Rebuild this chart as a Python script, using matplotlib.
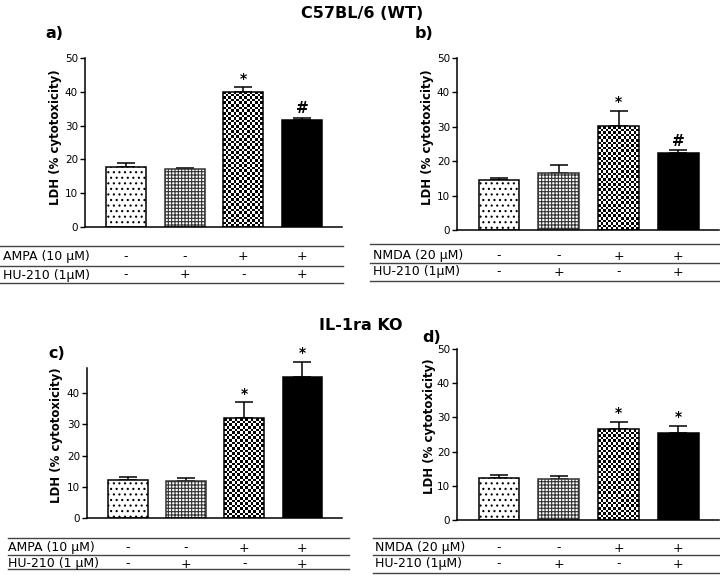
import numpy as np
import matplotlib
matplotlib.use('Agg')
import matplotlib.pyplot as plt
from matplotlib import transforms
from matplotlib.lines import Line2D

plt.rcParams['font.family'] = ['DejaVu Sans']
plt.rcParams['hatch.linewidth'] = 0.8

# data (LDH, % cytotoxicity)
a_vals = [17.7, 17.2, 40.0, 31.7]
a_err = [1.1, 0.3, 1.3, 0.6]
a_marks = ['', '', '*', '#']

b_vals = [14.5, 16.7, 30.1, 22.4]
b_err = [0.6, 2.3, 4.6, 0.8]
b_marks = ['', '', '*', '#']

c_vals = [12.3, 12.0, 32.0, 45.0]
c_err = [0.9, 0.8, 5.0, 5.0]
c_marks = ['', '', '*', '*']

d_vals = [12.4, 12.1, 26.6, 25.5]
d_err = [0.9, 0.8, 2.2, 2.1]
d_marks = ['', '', '*', '*']

agonist_signs = ['-', '-', '+', '+']
hu_signs = ['-', '+', '-', '+']

W, H = 720, 580
fig = plt.figure(figsize=(7.2, 5.8), dpi=100)


def fx(px):
    return px / W


def fy(py):
    return 1 - py / H


def panel(box, ylim, yticks, vals, errs, marks, letter, letter_pos, ylab_pos,
          row_labels, label_x, row_ys, line_ys, line_x):
    left, top, right, bottom = box
    ax = fig.add_axes([fx(left), fy(bottom), (right - left) / W, (bottom - top) / H])
    ax.set_xlim(-0.7, 3.68)
    ax.set_ylim(*ylim)
    ax.set_yticks(yticks)
    for s in ['top', 'right']:
        ax.spines[s].set_visible(False)
    for s in ['left', 'bottom']:
        ax.spines[s].set_linewidth(1.1)
    ax.tick_params(axis='x', bottom=False, labelbottom=False)
    ax.tick_params(axis='y', direction='out', length=3.5, width=1, labelsize=7.5, pad=1.5)

    x = np.arange(len(vals))
    ax.errorbar(x, vals, yerr=[np.zeros(len(errs)), errs], fmt='none', ecolor='black',
                elinewidth=1.1, capsize=6.5, capthick=1.1, zorder=1, clip_on=False)
    bars = ax.bar(x, vals, width=0.68, color='white', edgecolor='black', linewidth=1.1, zorder=2)
    bars[0].set_hatch('...')
    bars[1].set_hatch('+++++')
    bars[1].set_edgecolor('#333333')
    bars[3].set_facecolor('black')

    # checkerboard bar
    b = bars[2]
    b.set_facecolor('none')
    x0, w, h = b.get_x(), b.get_width(), b.get_height()
    p0 = ax.transData.transform((x0, 0))
    p1 = ax.transData.transform((x0 + w, h))
    nx = max(1, int(round((p1[0] - p0[0]) / 2.6)))
    ny = max(1, int(round((p1[1] - p0[1]) / 2.6)))
    checker = np.indices((ny, nx)).sum(axis=0) % 2
    img = ax.imshow(checker, cmap='gray', extent=(x0, x0 + w, 0, h), interpolation='nearest',
                    aspect='auto', zorder=1.5)
    img.set_clip_path(b)
    ax.set_xlim(-0.7, 3.68)
    ax.set_ylim(*ylim)

    for xi, v, e, m in zip(x, vals, errs, marks):
        if m:
            ax.annotate(m, (xi, v + e), xytext=(0, 1), textcoords='offset points',
                        ha='center', va='bottom', fontsize=11 if m == '#' else 10,
                        fontweight='bold', annotation_clip=False)

    ax.set_ylabel('LDH (% cytotoxicity)', fontsize=8.5, fontweight='bold')
    ax.yaxis.set_label_coords(fx(ylab_pos[0]), fy(ylab_pos[1]), transform=fig.transFigure)

    fig.text(fx(letter_pos[0]), fy(letter_pos[1]), letter, fontsize=11.5, fontweight='bold',
             ha='left', va='center')

    trans = transforms.blended_transform_factory(ax.transData, fig.transFigure)
    for label, signs, ry in zip(row_labels, [agonist_signs, hu_signs], row_ys):
        fig.text(fx(label_x), fy(ry), label, fontsize=9, ha='left', va='center')
        for xi, s in zip(x, signs):
            ax.text(xi, fy(ry), s, transform=trans, fontsize=9, ha='center', va='center',
                    clip_on=False)
    for ly in line_ys:
        fig.add_artist(Line2D([fx(line_x[0]), fx(line_x[1])], [fy(ly), fy(ly)],
                              color='#444444', lw=1))
    return ax


panel((85, 58, 342, 227), (0, 50), [0, 10, 20, 30, 40, 50], a_vals, a_err, a_marks,
      'a)', (45, 33), (62, 137), ['AMPA (10 \u03bcM)', 'HU-210 (1\u03bcM)'], 3,
      (257, 275), (246, 266, 283), (0, 343))
panel((457, 58, 719, 230), (0, 50), [0, 10, 20, 30, 40, 50], b_vals, b_err, b_marks,
      'b)', (415, 33), (434, 137), ['NMDA (20 \u03bcM)', 'HU-210 (1\u03bcM)'], 373,
      (256, 272), (244, 263, 281), (370, 720))
panel((87, 368, 342, 518), (0, 48), [0, 10, 20, 30, 40], c_vals, c_err, c_marks,
      'c)', (48, 353), (63, 435), ['AMPA (10 \u03bcM)', 'HU-210 (1 \u03bcM)'], 8,
      (548, 564), (538, 555, 569), (8, 349))
panel((457, 349, 719, 520), (0, 50), [0, 10, 20, 30, 40, 50], d_vals, d_err, d_marks,
      'd)', (422, 337), (436, 426), ['NMDA (20 \u03bcM)', 'HU-210 (1\u03bcM)'], 375,
      (548, 564), (538, 555, 573), (373, 720))

fig.text(fx(362), fy(13), 'C57BL/6 (WT)', fontsize=11.5, fontweight='bold', ha='center', va='center')
fig.text(fx(361), fy(325), 'IL-1ra KO', fontsize=11.5, fontweight='bold', ha='center', va='center')

fig.savefig('out.png', dpi=100)
